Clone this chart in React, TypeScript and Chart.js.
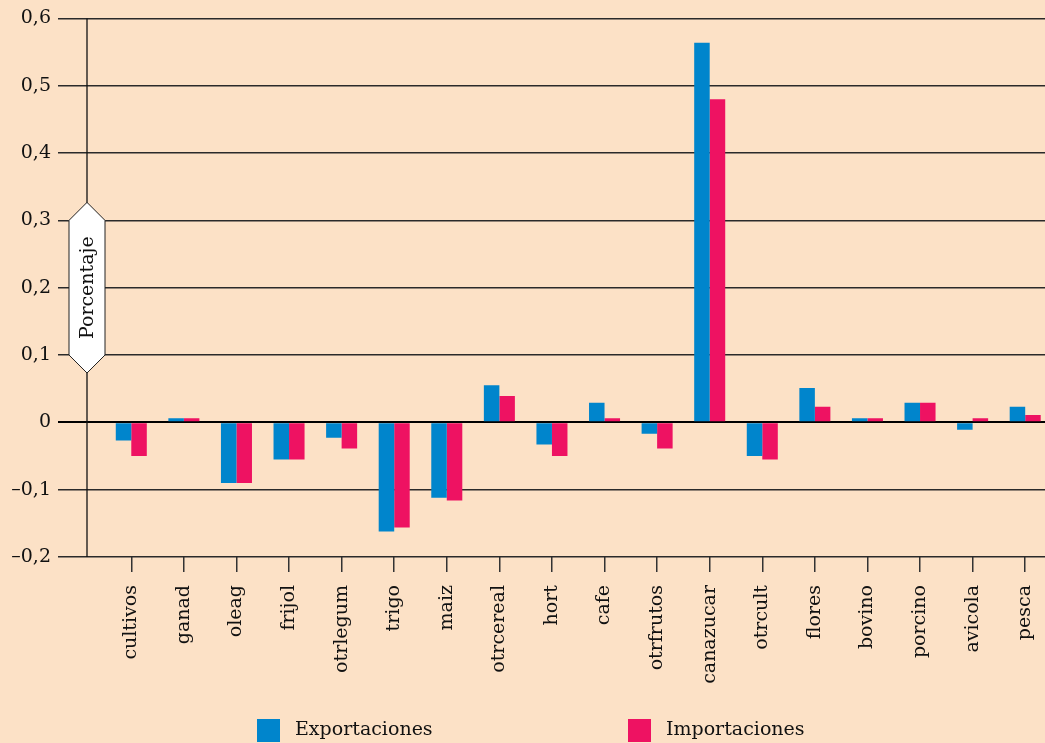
import React, { useEffect, useRef } from "react";
import { Chart, registerables } from "chart.js";

Chart.register(...registerables);

const categories = [
  "cultivos", "ganad", "oleag", "frijol", "otrlegum", "trigo", "maiz", "otrcereal", "hort",
  "cafe", "otrfrutos", "canazucar", "otrcult", "flores", "bovino", "porcino", "avicola", "pesca",
];
const exportaciones = [
  -0.027, 0.006, -0.09, -0.055, -0.023, -0.162, -0.112, 0.055, -0.033,
  0.029, -0.017, 0.564, -0.05, 0.051, 0.006, 0.029, -0.011, 0.023,
];
const importaciones = [
  -0.05, 0.006, -0.09, -0.055, -0.039, -0.156, -0.116, 0.039, -0.05,
  0.006, -0.039, 0.48, -0.055, 0.023, 0.006, 0.029, 0.006, 0.011,
];
const yTickLabels = ["–0,2", "–0,1", "0", "0,1", "0,2", "0,3", "0,4", "0,5", "0,6"];
const seriesNames = ["Exportaciones", "Importaciones"];
const yTitle = "Porcentaje";

const BG = "#FCE1C6";
const BLUE = "#0085CC";
const PINK = "#EE1262";
const FONT = "'DejaVu Serif', serif";

export default function App() {
  const ref = useRef<HTMLCanvasElement>(null);

  useEffect(() => {
    if (!ref.current) return;
    const axisLineOffset = 18;
    const legendBoxX = [257, 628];

    const plugin = {
      id: "custom",
      beforeDraw(chart: any) {
        const { ctx, width, height } = chart;
        ctx.save();
        ctx.fillStyle = BG;
        ctx.fillRect(0, 0, width, height);
        ctx.restore();
      },
      beforeDatasetsDraw(chart: any) {
        const { ctx, chartArea } = chart;
        const x = chartArea.left - axisLineOffset;
        ctx.save();
        ctx.strokeStyle = "#111";
        ctx.lineWidth = 1.3;
        ctx.beginPath();
        ctx.moveTo(x, chartArea.top);
        ctx.lineTo(x, chartArea.bottom);
        ctx.stroke();
        ctx.restore();
      },
      afterDraw(chart: any) {
        const { ctx, chartArea, scales } = chart;
        const y = scales.y;
        const x0 = chartArea.left - axisLineOffset;
        const yTop = y.getPixelForValue(0.3);
        const yBot = y.getPixelForValue(0.1);
        const yMid = y.getPixelForValue(0.2);
        const hw = 18;
        ctx.save();
        ctx.beginPath();
        ctx.moveTo(x0, yTop - hw);
        ctx.lineTo(x0 + hw, yTop);
        ctx.lineTo(x0 + hw, yBot);
        ctx.lineTo(x0, yBot + hw);
        ctx.lineTo(x0 - hw, yBot);
        ctx.lineTo(x0 - hw, yTop);
        ctx.closePath();
        ctx.fillStyle = "#ffffff";
        ctx.fill();
        ctx.strokeStyle = "#222";
        ctx.lineWidth = 1;
        ctx.stroke();
        ctx.translate(x0, yMid);
        ctx.rotate(-Math.PI / 2);
        ctx.fillStyle = "#111";
        ctx.font = `19px ${FONT}`;
        ctx.textAlign = "center";
        ctx.textBaseline = "middle";
        ctx.fillText(yTitle, 0, 1);
        ctx.restore();

        // legend
        ctx.save();
        const boxTop = chart.height - 24;
        chart.data.datasets.forEach((ds: any, i: number) => {
          const bx = legendBoxX[i];
          ctx.fillStyle = ds.backgroundColor;
          ctx.fillRect(bx, boxTop, 23, 23);
          ctx.fillStyle = "#111";
          ctx.font = `19px ${FONT}`;
          ctx.textAlign = "left";
          ctx.textBaseline = "middle";
          ctx.fillText(ds.label, bx + 38, boxTop + 11);
        });
        ctx.restore();
      },
    };

    const chart = new Chart(ref.current, {
      type: "bar",
      data: {
        labels: categories,
        datasets: [
          {
            label: seriesNames[0],
            data: exportaciones,
            backgroundColor: BLUE,
            categoryPercentage: 0.59,
            barPercentage: 1,
          },
          {
            label: seriesNames[1],
            data: importaciones,
            backgroundColor: PINK,
            categoryPercentage: 0.59,
            barPercentage: 1,
          },
        ],
      },
      options: {
        animation: false,
        responsive: false,
        layout: { padding: { top: 18, left: 0, right: 0, bottom: 40 } },
        plugins: { legend: { display: false }, tooltip: { enabled: false } },
        scales: {
          x: {
            offset: true,
            grid: {
              display: true,
              drawOnChartArea: false,
              drawTicks: true,
              tickLength: 15,
              offset: false,
              color: "#333",
              lineWidth: 1.5,
            },
            border: { display: false },
            ticks: {
              minRotation: 90,
              maxRotation: 90,
              autoSkip: false,
              padding: 13,
              color: "#111",
              font: { family: FONT, size: 19 },
            },
            afterFit(s: any) {
              s.height = 146;
            },
          },
          y: {
            min: -0.2,
            max: 0.6,
            ticks: {
              stepSize: 0.1,
              padding: 7,
              color: "#111",
              font: { family: FONT, size: 19 },
              callback: (_v: any, i: number) => yTickLabels[i],
            },
            grid: {
              drawTicks: true,
              tickLength: 47,
              color: (c: any) => (Math.abs(c.tick.value) < 1e-9 ? "#000" : "#2a2a2a"),
              lineWidth: (c: any) => (Math.abs(c.tick.value) < 1e-9 ? 2 : 1.4),
            },
            border: { display: false },
            afterFit(s: any) {
              s.width = 105;
            },
          },
        },
      },
      plugins: [plugin],
    });
    return () => chart.destroy();
  }, []);

  return (
    <div
      style={{
        position: "fixed",
        left: 0,
        top: 0,
        width: 1045,
        height: 743,
        overflow: "hidden",
        background: BG,
      }}
    >
      <canvas ref={ref} width={1061} height={743} style={{ display: "block" }} />
    </div>
  );
}
